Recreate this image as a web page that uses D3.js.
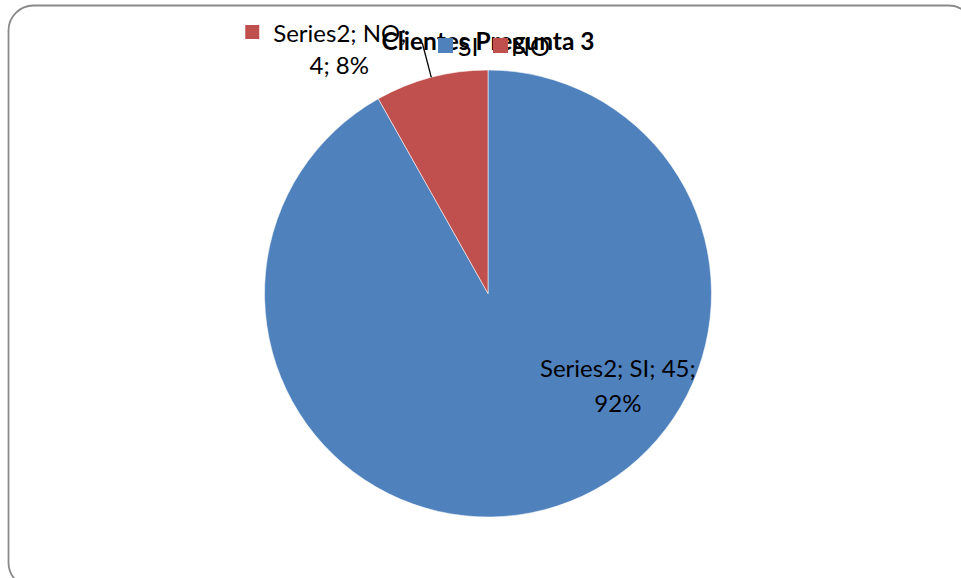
<!DOCTYPE html>
<html>
<head>
<meta charset="utf-8">
<script src="https://cdn.jsdelivr.net/npm/d3@7"></script>
<style>
  html, body { margin: 0; padding: 0; background: #fff; }
  svg { display: block; }
</style>
</head>
<body>
<svg id="chart" width="961" height="578"></svg>
<script>
// Chart data
const chartTitle = "Clientes Pregunta 3";
const seriesName = "Series2";
const categories = ["SI", "NO"];
const values = [45, 4];
const sliceColors = ["#4F81BD", "#C0504D"];

const W = 961, H = 578;
const cx = 488, cy = 293.5, radius = 223.5;
const font = "Lato, 'Open Sans', sans-serif";

const svg = d3.select("#chart");

// Rounded chart-area border (extends past the right and bottom edges)
svg.append("rect")
  .attr("x", 8.5).attr("y", 5.5)
  .attr("width", 965).attr("height", 582)
  .attr("rx", 25).attr("ry", 25)
  .attr("fill", "#fff")
  .attr("stroke", "#8a8a8a")
  .attr("stroke-width", 1.8);

const total = d3.sum(values);
const pct = d3.format(".0%");
const color = d3.scaleOrdinal().domain(categories).range(sliceColors);

const pie = d3.pie().sort(null).value(d => d.value);
const slices = pie(categories.map((c, i) => ({ cat: c, value: values[i] })));

const arc = d3.arc().innerRadius(0).outerRadius(radius);

const g = svg.append("g").attr("transform", `translate(${cx},${cy})`);

g.selectAll("path.slice")
  .data(slices)
  .join("path")
  .attr("class", "slice")
  .attr("d", arc)
  .attr("fill", d => color(d.data.cat))
  .attr("stroke", "#fff")
  .attr("stroke-width", 0.8)
  .attr("stroke-opacity", 0.7);

// Title
svg.append("text")
  .attr("x", cx).attr("y", 50)
  .attr("text-anchor", "middle")
  .attr("font-family", font)
  .attr("font-weight", "bold")
  .attr("font-size", 24.5)
  .attr("fill", "#000")
  .text(chartTitle);

// Legend
const legendItems = [
  { cat: categories[0], x: 438, tx: 458 },
  { cat: categories[1], x: 493, tx: 511 }
];
const legend = svg.append("g");
legendItems.forEach(it => {
  legend.append("rect")
    .attr("x", it.x).attr("y", 38)
    .attr("width", 15).attr("height", 15)
    .attr("fill", color(it.cat));
  legend.append("text")
    .attr("x", it.tx).attr("y", 56)
    .attr("font-family", font)
    .attr("font-size", 25)
    .attr("fill", "#000")
    .text(it.cat);
});

// Data labels
const labelSize = 24;
function labelLines(d) {
  return [
    `${seriesName}; ${d.data.cat}; ${d.data.value};`,
    pct(d.data.value / total)
  ];
}

// SI label inside the slice
const siSlice = slices[0];
const siAngle = 125.3 * Math.PI / 180;
const siR = radius * 0.712;
const siX = cx + siR * Math.sin(siAngle);
const siY = cy - siR * Math.cos(siAngle);
const siLines = labelLines(siSlice);
const siText = svg.append("text")
  .attr("font-family", font)
  .attr("font-size", labelSize)
  .attr("text-anchor", "middle")
  .attr("fill", "#000");
siText.append("tspan").attr("x", siX).attr("y", siY - 8).text(siLines[0]);
siText.append("tspan").attr("x", siX).attr("y", siY + 27).text(siLines[1]);

// NO label outside the slice with leader line and legend key
const noSlice = slices[1];
const mid = (noSlice.startAngle + noSlice.endAngle) / 2;
const p0 = [cx + radius * Math.sin(mid), cy - radius * Math.cos(mid)];
const p1 = [cx + radius * 1.16 * Math.sin(mid), cy - radius * 1.16 * Math.cos(mid)];
const noLines = labelLines(noSlice);
const noKeyX = p1[0] - 177, noKeyY = 25;
svg.append("rect")
  .attr("x", noKeyX).attr("y", noKeyY)
  .attr("width", 14).attr("height", 14)
  .attr("fill", color(noSlice.data.cat));
const noText = svg.append("text")
  .attr("font-family", font)
  .attr("font-size", labelSize)
  .attr("fill", "#000");
noText.append("tspan").attr("x", noKeyX + 28).attr("y", 42).text(`${seriesName}; ${noSlice.data.cat};`);
noText.append("tspan").attr("x", p1[0] - 83).attr("y", 74).attr("text-anchor", "middle")
  .text(`${noSlice.data.value}; ${noLines[1]}`);

svg.append("line")
  .attr("x1", p1[0]).attr("y1", p1[1])
  .attr("x2", p0[0]).attr("y2", p0[1])
  .attr("stroke", "#000")
  .attr("stroke-width", 1.3);
</script>
</body>
</html>
